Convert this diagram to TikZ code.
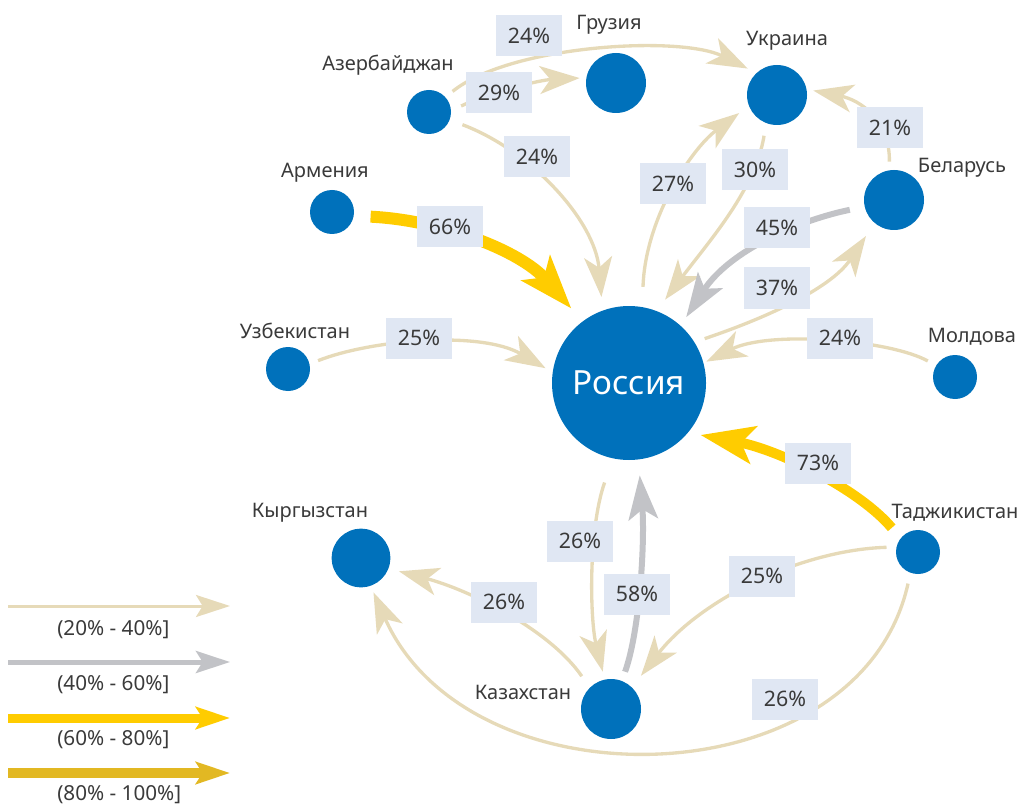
\documentclass[tikz,border=0pt]{standalone}
\usepackage{fontspec}
\setmainfont{Noto Sans}
\usetikzlibrary{arrows.meta}
\definecolor{beige}{HTML}{E6DAB8}
\definecolor{cgrey}{HTML}{C2C3C7}
\definecolor{cyellow}{HTML}{FFCC00}
\definecolor{cgold}{HTML}{E2B823}
\definecolor{cblue}{HTML}{0071BB}
\definecolor{boxfill}{HTML}{E0E7F3}
\definecolor{tgray}{HTML}{3A3A3A}
\tikzset{
  country/.style={circle,fill=cblue,inner sep=0pt,minimum size=#1},
  clabel/.style={font=\fontsize{15}{18}\selectfont,text=tgray,inner sep=0pt},
  lbox/.style={fill=boxfill,minimum width=49.5pt,minimum height=30.75pt,inner sep=0pt,font=\fontsize{16}{19}\selectfont,text=tgray},
  legtext/.style={font=\fontsize{15.5}{18}\selectfont,text=tgray,anchor=west,inner sep=0pt},
  ebeige/.style={draw=beige,line width=2.5pt,-{Stealth[length=30pt,width=21pt,inset=8pt]}},
  egrey/.style={draw=cgrey,line width=4.5pt,-{Stealth[length=33pt,width=22pt,inset=7.5pt]}},
  eyellow/.style={draw=cyellow,line width=#1,-{Stealth[length=40pt,width=28pt,inset=9pt]}},
  legarrow/.style={line width=#1,-{Stealth[length=25.5pt,width=16.5pt,inset=5pt]}},
}
\begin{document}
\begin{tikzpicture}[x=0.75pt,y=0.75pt]
\useasboundingbox (0,0) rectangle (1019,-805);

% countries
\node[country=115.5pt] (rus) at (629,-383) {};
\node[text=white,font=\fontsize{25}{30}\selectfont] (ruslbl) at (629,-383) {Россия};
\node[country=33pt] (az) at (429,-112) {};
\node[country=45pt] (geo) at (616,-83) {};
\node[country=45pt] (ukr) at (777,-95) {};
\node[country=45pt] (bel) at (894,-200) {};
\node[country=33pt] (arm) at (332,-212) {};
\node[country=33pt] (uzb) at (288,-369) {};
\node[country=33pt] (mol) at (955,-377) {};
\node[country=44pt] (kyr) at (361,-558) {};
\node[country=33pt] (taj) at (918,-552) {};
\node[country=45pt] (kaz) at (611,-709) {};

% names
\node[clabel] (azl) at (388,-65) {Азербайджан};
\node[clabel] (geol) at (609,-25) {Грузия};
\node[clabel] (ukrl) at (787,-41) {Украина};
\node[clabel] (bell) at (962,-168) {Беларусь};
\node[clabel] (arml) at (325,-173) {Армения};
\node[clabel] (uzbl) at (295,-331) {Узбекистан};
\node[clabel] (moll) at (972,-337) {Молдова};
\node[clabel] (kyrl) at (310,-513) {Кыргызстан};
\node[clabel] (tajl) at (955,-513) {Таджикистан};
\node[clabel] (kazl) at (523,-692) {Казахстан};

% connectors
\draw[ebeige,shorten <=6.75pt,shorten >=7.2pt] (az.42) .. controls (510,-45) and (680,-35) .. (ukr.133);
\draw[ebeige,shorten <=8.25pt,shorten >=4.9pt] (az.3) .. controls (490,-92) and (540,-80) .. (geo.170);
\draw[ebeige,shorten <=10.1pt,shorten >=10.1pt] (az.-21) .. controls (530,-150) and (595,-220) .. (rus.110);
\draw[eyellow=9pt,shorten <=12.5pt,shorten >=12.75pt] (arm.-10) .. controls (440,-220) and (520,-250) .. (rus.127);
\draw[ebeige,shorten <=6.75pt,shorten >=6pt] (uzb.13) .. controls (370,-340) and (480,-330) .. (rus.172);
\draw[ebeige,shorten <=15pt,shorten >=9pt] (rus.80) .. controls (645,-220) and (690,-150) .. (ukr.201);
\draw[ebeige,shorten <=9.5pt,shorten >=10.5pt] (ukr.-111) .. controls (755,-190) and (710,-240) .. (rus.69);
\draw[ebeige,shorten <=6.4pt,shorten >=5pt] (bel.99) .. controls (890,-120) and (860,-100) .. (ukr.11);
\draw[egrey,shorten <=11.25pt,shorten >=7.5pt] (bel.193) .. controls (800,-220) and (730,-250) .. (rus.48);
\draw[ebeige,shorten <=8pt,shorten >=11.6pt] (rus.32) .. controls (760,-320) and (830,-290) .. (bel.-130);
\draw[ebeige,shorten <=7pt,shorten >=2.25pt] (mol.149) .. controls (890,-340) and (770,-330) .. (rus.15);
\draw[eyellow=7.5pt,shorten <=10.2pt,shorten >=9.4pt] (taj.142) .. controls (860,-490) and (780,-450) .. (rus.-40);
\draw[ebeige,shorten <=19pt,shorten >=6pt] (rus.-102) .. controls (588,-530) and (590,-620) .. (kaz.102);
\draw[egrey,shorten <=7.2pt,shorten >=11.8pt] (kaz.69) .. controls (640,-630) and (645,-540) .. (rus.-83);
\draw[ebeige,shorten <=7.35pt,shorten >=10.9pt] (taj.167) .. controls (800,-550) and (700,-600) .. (kaz.46);
\draw[ebeige,shorten <=8.2pt,shorten >=5.25pt] (taj.-110) .. controls (860,-800) and (470,-810) .. (kyr.-71);
\draw[ebeige,shorten <=10.35pt,shorten >=8pt] (kaz.135) .. controls (550,-630) and (470,-590) .. (kyr.-21);

% value boxes
\node[lbox] (b1) at (529,-36) {24\%};
\node[lbox] (b2) at (499,-93) {29\%};
\node[lbox] (b3) at (537,-157) {24\%};
\node[lbox] (b4) at (450,-227) {66\%};
\node[lbox] (b5) at (419,-338) {25\%};
\node[lbox] (b6) at (673,-184) {27\%};
\node[lbox] (b7) at (755,-170) {30\%};
\node[lbox] (b8) at (890,-128) {21\%};
\node[lbox] (b9) at (777,-228) {45\%};
\node[lbox] (b10) at (777,-288) {37\%};
\node[lbox] (b11) at (840,-338) {24\%};
\node[lbox] (b12) at (818,-463) {73\%};
\node[lbox] (b13) at (580,-541) {26\%};
\node[lbox] (b14) at (637,-594) {58\%};
\node[lbox] (b15) at (762,-576) {25\%};
\node[lbox] (b16) at (785,-699) {26\%};
\node[lbox] (b17) at (504,-602) {26\%};

% legend
\coordinate (l1a) at (8,-606); \coordinate (l1b) at (230,-606);
\coordinate (l2a) at (8,-662); \coordinate (l2b) at (230,-662);
\coordinate (l3a) at (8,-718); \coordinate (l3b) at (230,-718);
\coordinate (l4a) at (8,-773); \coordinate (l4b) at (230,-773);
\draw[legarrow=2.25pt,draw=beige] (l1a) -- (l1b);
\draw[legarrow=3.75pt,draw=cgrey] (l2a) -- (l2b);
\draw[legarrow=6.75pt,draw=cyellow] (l3a) -- (l3b);
\draw[legarrow=7.5pt,draw=cgold] (l4a) -- (l4b);
\node[legtext] (lt1) at (57,-630) {(20\% - 40\%]};
\node[legtext] (lt2) at (57,-685) {(40\% - 60\%]};
\node[legtext] (lt3) at (57,-740) {(60\% - 80\%]};
\node[legtext] (lt4) at (57,-795) {(80\% - 100\%]};
\end{tikzpicture}
\end{document}
